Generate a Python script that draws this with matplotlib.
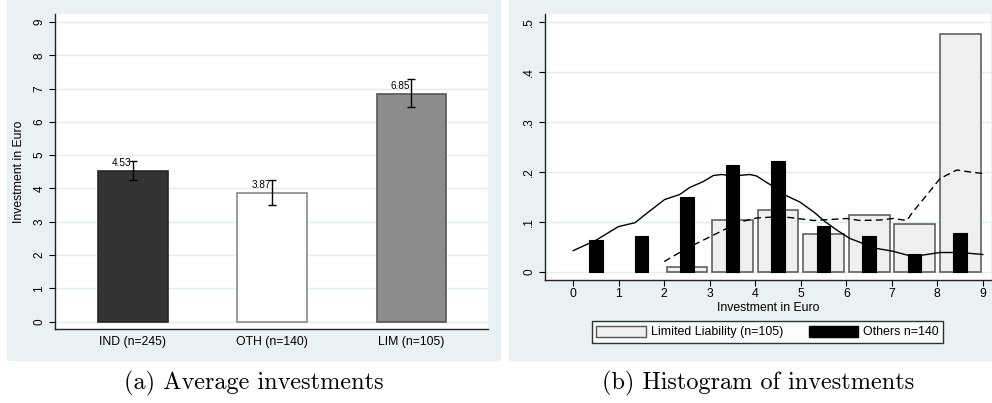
import matplotlib
matplotlib.use("Agg")
import matplotlib.pyplot as plt
from matplotlib.patches import Rectangle, Patch

# --- data ---
groups = ['IND (n=245)', 'OTH (n=140)', 'LIM (n=105)']
means = [4.53, 3.87, 6.85]
ci_low = [4.25, 3.50, 6.44]
ci_high = [4.82, 4.25, 7.28]
bar_colors = ['#333333', '#ffffff', '#8c8c8c']
bar_edges = ['#262626', '#8a8a8a', '#555555']

bin_starts = [0, 1, 2, 3, 4, 5, 6, 7, 8]
limited_share = [0, 0, 0.0095, 0.1048, 0.1238, 0.0762, 0.1143, 0.0952, 0.4762]
others_share = [0.0643, 0.0714, 0.15, 0.2143, 0.2214, 0.0929, 0.0714, 0.0357, 0.0786]

others_kx = [0, 0.51, 0.99, 1.36, 1.61, 2.01, 2.34, 2.56, 2.86, 3.08, 3.26, 3.52,
             3.88, 4.03, 4.25, 4.4, 4.65, 4.98, 5.3, 5.53, 5.79, 6.08, 6.37, 6.67,
             7.0, 7.33, 7.62, 8.06, 8.5, 9.0]
others_ky = [.0427, .064, .0907, .0987, .117, .145, .155, .169, .181, .193, .195, .192,
             .195, .192, .179, .171, .154, .140, .119, .101, .084, .067, .057, .047,
             .042, .034, .033, .039, .039, .035]
limited_kx = [2.0, 2.49, 2.93, 3.37, 3.66, 4.03, 4.4, 4.76, 5.28, 5.64, 6.0, 6.3,
              6.74, 7.03, 7.33, 7.47, 7.77, 8.06, 8.43, 8.72, 9.0]
limited_ky = [.021, .047, .067, .087, .100, .108, .110, .109, .103, .105, .107, .103,
              .104, .107, .103, .121, .154, .187, .204, .200, .197]

hist_yticks = [0, 0.1, 0.2, 0.3, 0.4, 0.5]
hist_ylabels = ['0', '.1', '.2', '.3', '.4', '.5']

plt.rcParams['font.family'] = ['Liberation Sans', 'DejaVu Sans']

W, H = 992, 403
fig = plt.figure(figsize=(W / 100, H / 100), dpi=100)
bg = '#e9f1f3'
grid_c = '#e4ecee'


def box(x0, y0, x1, y1):
    # pixel box (top-left origin) -> figure fraction
    return [x0 / W, 1 - y1 / H, (x1 - x0) / W, (y1 - y0) / H]


for x0, x1 in [(7, 501), (509, 992)]:
    b = box(x0, 0, x1, 361)
    fig.patches.append(Rectangle((b[0], b[1]), b[2], b[3], transform=fig.transFigure,
                                 facecolor=bg, edgecolor='none', zorder=-10))

# ---- (a) average investments ----
ax1 = fig.add_axes(box(55, 14, 488, 329))
pos = list(range(len(groups)))
ax1.bar(pos, means, width=0.5, color=bar_colors, edgecolor=bar_edges, linewidth=1.2, zorder=2)
err_lo = [m - l for m, l in zip(means, ci_low)]
err_hi = [h - m for m, h in zip(means, ci_high)]
ax1.errorbar(pos, means, yerr=[err_lo, err_hi], fmt='none', ecolor='black',
             elinewidth=1, capsize=2.6, capthick=1, zorder=3)
for p, m in zip(pos, means):
    ax1.annotate(f'{m:.2f}', (p, m), xytext=(-1, 2), textcoords='offset points',
                 ha='right', va='bottom', fontsize=7.2, zorder=4)
ax1.set_xlim(-0.56, 2.55)
ax1.set_ylim(-0.22, 9.24)
ax1.set_xticks(pos)
ax1.set_xticklabels(groups, fontsize=8.8)
ax1.set_yticks(range(10))
ax1.tick_params(axis='x', length=0, pad=5)
ax1.tick_params(axis='y', labelsize=8.5, labelrotation=90, length=4, width=0.8, pad=3)
for t in ax1.get_yticklabels():
    t.set_va('center')
ax1.set_ylabel('Investment in Euro', fontsize=8.8, labelpad=6)
ax1.grid(axis='y', color=grid_c, linewidth=1, zorder=0)
ax1.set_axisbelow(True)
for s in ['top', 'right']:
    ax1.spines[s].set_visible(False)
for s in ['left', 'bottom']:
    ax1.spines[s].set_color('#222222')
    ax1.spines[s].set_linewidth(1)

# ---- (b) histogram ----
ax2 = fig.add_axes(box(545, 14, 991, 280))
lim_pos = [b + 0.5 for b, v in zip(bin_starts, limited_share) if v > 0]
lim_val = [v for v in limited_share if v > 0]
ax2.bar(lim_pos, lim_val, width=0.9, color='#efefef',
        edgecolor='#555555', linewidth=1.1, zorder=2)
ax2.bar([b + 0.5 for b in bin_starts], others_share, width=0.3, color='black',
        edgecolor='black', linewidth=0.8, zorder=3)
ax2.plot(others_kx, others_ky, color='black', linewidth=1.0, zorder=4)
ax2.plot(limited_kx, limited_ky, color='black', linewidth=1.0, linestyle=(0, (5, 3)), zorder=4)
ax2.set_xlim(-0.62, 9.18)
ax2.set_ylim(-0.016, 0.516)
ax2.set_xticks(range(10))
ax2.set_yticks(hist_yticks)
ax2.set_yticklabels(hist_ylabels)
ax2.tick_params(axis='x', labelsize=8.8, length=4, width=0.8, pad=2)
ax2.tick_params(axis='y', labelsize=8.5, labelrotation=90, length=4, width=0.8, pad=3)
for t in ax2.get_yticklabels():
    t.set_va('center')
ax2.set_xlabel('Investment in Euro', fontsize=8.8, labelpad=1)
ax2.grid(axis='y', color=grid_c, linewidth=1, zorder=0)
ax2.set_axisbelow(True)
for s in ['top', 'right']:
    ax2.spines[s].set_visible(False)
for s in ['left', 'bottom']:
    ax2.spines[s].set_color('#222222')
    ax2.spines[s].set_linewidth(1)

handles = [Patch(facecolor='#efefef', edgecolor='#555555', linewidth=1),
           Patch(facecolor='black', edgecolor='black')]
leg = fig.legend(handles, ['Limited Liability (n=105)', 'Others n=140'], ncol=2,
                 loc='center', bbox_to_anchor=(767.5 / W, 1 - 332 / H),
                 fontsize=8.9, frameon=True, fancybox=False, handlelength=4,
                 handleheight=1.0, handletextpad=0.4, columnspacing=2.1,
                 borderpad=0.35, borderaxespad=0)
leg.get_frame().set_edgecolor('black')
leg.get_frame().set_linewidth(1)

# captions
fig.text(254 / W, 1 - 383 / H, '(a) Average investments', family='cmr10',
         fontsize=17.5, ha='center', va='center')
fig.text(758 / W, 1 - 383 / H, '(b) Histogram of investments', family='cmr10',
         fontsize=17.5, ha='center', va='center')

fig.savefig('out.png', dpi=100, facecolor='white')
